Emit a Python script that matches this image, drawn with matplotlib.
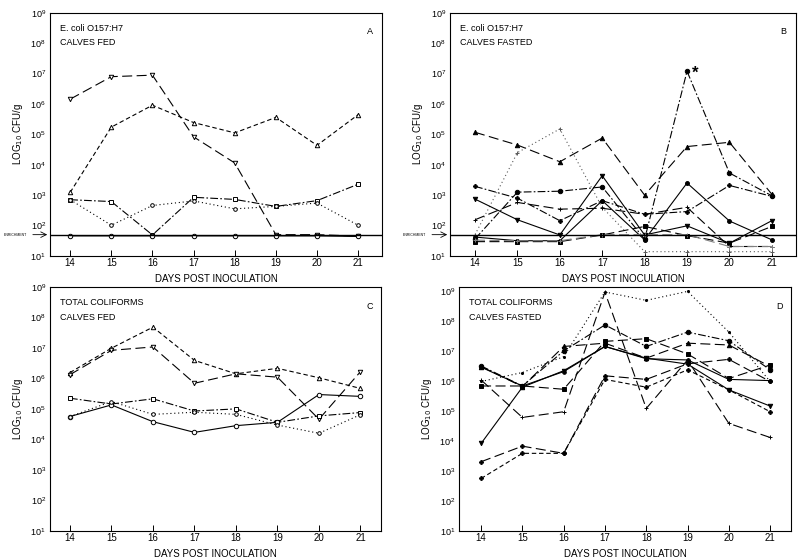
import matplotlib
matplotlib.use("Agg")
import matplotlib.pyplot as plt
import numpy as np

plt.rcParams['font.family'] = ['Liberation Sans', 'DejaVu Sans']

days = [14, 15, 16, 17, 18, 19, 20, 21]
enrichment = 1.7  # log10 CFU/g detection line

# panel A: E. coli O157:H7, calves fed (log10 values)
a_down = [6.16, 6.90, 6.95, 4.92, 4.06, 1.70, 1.70, 1.65]
a_up = [3.09, 5.24, 5.96, 5.39, 5.05, 5.56, 4.64, 5.65]
a_square = [2.85, 2.79, 1.69, 2.93, 2.86, 2.63, 2.82, 3.36]
a_circle = [1.66, 1.66, 1.66, 1.66, 1.66, 1.66, 1.66, 1.64]
a_diamond = [2.85, 2.01, 2.66, 2.81, 2.55, 2.63, 2.74, 2.01]

# panel B: E. coli O157:H7, calves fasted
b_tri = [5.07, 4.65, 4.10, 4.88, 3.00, 4.60, 4.74, 3.03]
b_dot_dash = [1.56, 3.10, 3.13, 3.27, 1.55, 7.08, 3.73, 2.98]
b_dotted = [1.70, 4.40, 5.18, 2.60, 1.14, 1.14, 1.14, 1.14]
b_plus1 = [3.29, 2.90, 2.16, 2.82, 2.37, 2.46, 3.32, 2.96]
b_down = [2.87, 2.19, 1.69, 3.64, 1.69, 1.99, 1.42, 2.16]
b_square = [1.47, 1.47, 1.47, 1.69, 1.97, 1.67, 1.42, 1.97]
b_circle = [1.62, 1.50, 1.50, 2.82, 1.53, 3.40, 2.15, 1.53]
b_plus2 = [2.19, 2.76, 2.54, 2.57, 2.37, 2.60, 1.31, 1.31]
b_grey = [1.52, 1.50, 1.50, 1.70, 1.70, 1.70, 1.31, 1.31]

# panel C: total coliforms, calves fed
c_up = [6.19, 6.99, 7.68, 6.59, 6.15, 6.33, 6.02, 5.67]
c_down = [6.12, 6.92, 7.03, 5.84, 6.15, 6.04, 4.66, 6.22]
c_square = [5.35, 5.16, 5.33, 4.93, 5.00, 4.56, 4.77, 4.88]
c_circle = [4.75, 5.13, 4.58, 4.23, 4.45, 4.56, 5.47, 5.41]
c_diamond = [4.75, 5.24, 4.82, 4.89, 4.82, 4.47, 4.20, 4.81]

# panel D: total coliforms, calves fasted
d_dotted = [5.99, 6.29, 6.82, 8.98, 8.70, 9.00, 7.64, 5.99]
d_circle1 = [6.51, 5.84, 7.01, 7.88, 7.16, 7.64, 7.35, 6.38]
d_tri = [6.49, 5.82, 7.16, 7.27, 6.77, 7.27, 7.21, 6.49]
d_square = [5.84, 5.84, 5.73, 7.33, 7.42, 6.91, 6.09, 6.54]
d_down = [3.92, 5.80, 6.35, 7.16, 6.77, 6.57, 5.71, 5.17]
d_plus1 = [3.31, 3.83, 3.59, 6.18, 6.06, 6.58, 6.73, 5.99]
d_plus2 = [2.75, 3.59, 3.59, 6.06, 5.80, 6.38, 5.71, 4.98]
d_plus3 = [6.04, 4.79, 4.98, 8.97, 5.09, 6.71, 4.59, 4.12]
d_circle2 = [6.47, 5.84, 6.32, 7.16, 6.75, 6.71, 6.06, 6.02]

LONG = (0, (9, 4))
SHORT = (0, (4, 2.5))
DASHDOT = (0, (7, 2, 1.5, 2))
DOT = (0, (1, 2.5))
SOLID = '-'


def series(ax, y, ls, marker, filled=False, color='black', ms=3.2):
    vals = [10 ** v for v in y]
    ax.plot(days, vals, ls=ls, color=color, lw=0.8, marker=marker, ms=ms,
            mfc=color if filled else 'white', mec=color, mew=0.7)


def setup(ax, xlim, top, line1, line2, letter, enrich=False):
    ax.set_yscale('log')
    ax.set_ylim(10, 10 ** top)
    ax.set_xlim(*xlim)
    ax.set_xticks(days)
    ax.set_yticks([10 ** k for k in range(1, 10)])
    ax.minorticks_off()
    ax.tick_params(axis='x', direction='in', length=4, width=0.7, labelsize=7, pad=1.5)
    ax.tick_params(axis='y', length=0, labelsize=6.5, pad=3)
    for s in ax.spines.values():
        s.set_linewidth(0.8)
    ax.text(0.03, 0.955, line1, transform=ax.transAxes, fontsize=6.5, va='top')
    ax.text(0.03, 0.895, line2, transform=ax.transAxes, fontsize=6.5, va='top')
    ax.text(0.955, 0.94, letter, transform=ax.transAxes, fontsize=6.5, va='top')
    ax.set_ylabel('LOG$_{10}$ CFU/g', fontsize=7, labelpad=4)
    ax.set_xlabel('DAYS POST INOCULATION', fontsize=7, labelpad=4)
    if enrich:
        ax.axhline(10 ** enrichment, color='black', lw=1.0)
        ax.annotate('', xy=(0.0, 10 ** enrichment), xycoords=('axes fraction', 'data'),
                    xytext=(-0.06, 10 ** enrichment),
                    textcoords=('axes fraction', 'data'),
                    arrowprops=dict(arrowstyle='->', lw=0.6, color='black'))
        ax.text(-0.07, 10 ** enrichment, 'ENRICHMENT', transform=ax.get_yaxis_transform(),
                fontsize=2.5, ha='right', va='center')


fig = plt.figure(figsize=(8, 5.6), dpi=100)

# A
ax = fig.add_axes([0.0625, 0.543, 0.415, 0.434])
series(ax, a_down, LONG, 'v')
series(ax, a_up, SHORT, '^')
series(ax, a_square, DASHDOT, 's')
series(ax, a_circle, SOLID, 'o')
series(ax, a_diamond, DOT, 'o', ms=2.6)
setup(ax, (13.51, 21.58), 9, 'E. coli O157:H7', 'CALVES FED', 'A', enrich=True)

# B
ax = fig.add_axes([0.5625, 0.543, 0.4325, 0.434])
series(ax, b_tri, LONG, '^', filled=True)
series(ax, b_dot_dash, DASHDOT, 'o', filled=True)
series(ax, b_dotted, DOT, '+', ms=3, color='0.35')
series(ax, b_plus1, DASHDOT, 'P', filled=True, ms=2.8)
series(ax, b_down, SOLID, 'v', filled=True)
series(ax, b_square, LONG, 's', filled=True)
series(ax, b_circle, SOLID, 'o', filled=True, ms=2.8)
series(ax, b_plus2, LONG, '+', ms=3.5)
series(ax, b_grey, LONG, '+', color='0.5', ms=3)
ax.text(19.12, 10 ** 7.0, '*', fontsize=12, fontweight='bold', va='center')
setup(ax, (13.41, 21.57), 9, 'E. coli O157:H7', 'CALVES FASTED', 'B', enrich=True)

# C
ax = fig.add_axes([0.0625, 0.052, 0.414, 0.4357])
series(ax, c_up, SHORT, '^')
series(ax, c_down, LONG, 'v')
series(ax, c_square, DASHDOT, 's')
series(ax, c_circle, SOLID, 'o')
series(ax, c_diamond, DOT, 'o', ms=2.6)
setup(ax, (13.52, 21.5), 9, 'TOTAL COLIFORMS', 'CALVES FED', 'C')

# D
ax = fig.add_axes([0.574, 0.052, 0.415, 0.4357])
series(ax, d_dotted, DOT, '.', filled=True, ms=3)
series(ax, d_circle1, DASHDOT, 'o', filled=True)
series(ax, d_tri, LONG, '^', filled=True)
series(ax, d_square, LONG, 's', filled=True)
series(ax, d_down, SOLID, 'v', filled=True)
series(ax, d_plus1, LONG, 'P', filled=True, ms=2.8)
series(ax, d_plus2, SHORT, 'P', filled=True, ms=2.8)
series(ax, d_plus3, LONG, '+', ms=3.5)
series(ax, d_circle2, SOLID, 'o', filled=True, ms=2.6)
setup(ax, (13.47, 21.51), 9.15, 'TOTAL COLIFORMS', 'CALVES FASTED', 'D')

fig.savefig('out.png', dpi=100)
